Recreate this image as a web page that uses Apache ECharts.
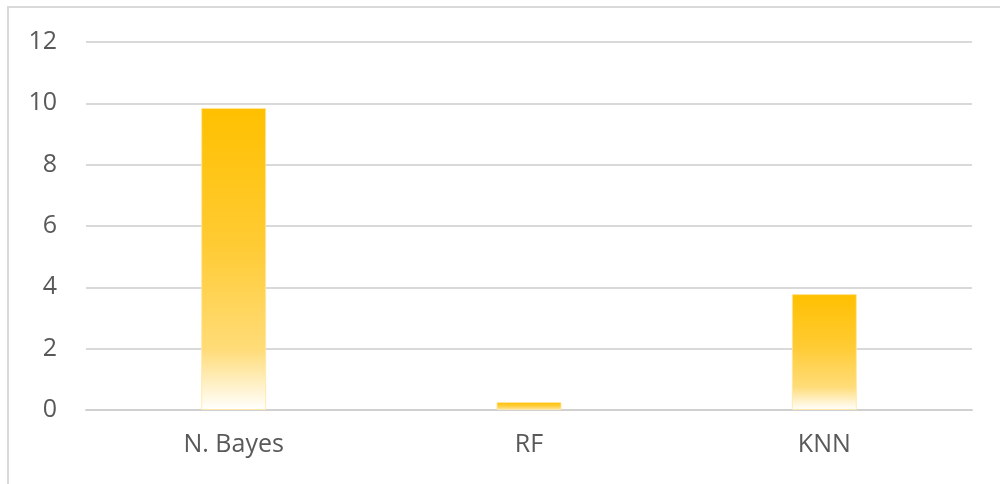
<!DOCTYPE html>
<html>
<head>
<meta charset="utf-8">
<script src="https://cdn.jsdelivr.net/npm/echarts@6/dist/echarts.min.js"></script>
<style>
  html, body { margin: 0; padding: 0; background: #fff; }
  #frame { position: absolute; left: 7px; top: 6px; width: 1000px; height: 490px;
           border-left: 2px solid #d9d9d9; border-top: 2px solid #d9d9d9; box-sizing: border-box; }
  #chart { position: absolute; left: 0; top: 0; width: 1000px; height: 484px; }
</style>
</head>
<body>
<div id="frame"></div>
<div id="chart"></div>
<script>
// Classifier names and their scores
const categories = ['N. Bayes', 'RF', 'KNN'];
const scores = [9.85, 0.26, 3.78];
const yTicks = { min: 0, max: 12, interval: 2 };

const chart = echarts.init(document.getElementById('chart'), null, { renderer: 'canvas' });

const barFill = new echarts.graphic.LinearGradient(0, 0, 0, 1, [
  { offset: 0, color: '#FFC000' },
  { offset: 0.45, color: '#FFCB33' },
  { offset: 0.8, color: '#FFDC78' },
  { offset: 1, color: '#FFFFFF' }
]);

const labelFont = 'Open Sans, Noto Sans, sans-serif';

chart.setOption({
  animation: false,
  backgroundColor: 'transparent',
  grid: { left: 86, right: 28, top: 42, bottom: 74, containLabel: false },
  xAxis: {
    type: 'category',
    data: categories,
    axisLine: { show: true, lineStyle: { color: '#d0d0d0', width: 2 } },
    axisTick: { show: false },
    axisLabel: { color: '#595959', fontSize: 25, fontFamily: labelFont, margin: 22 }
  },
  yAxis: {
    type: 'value',
    min: yTicks.min,
    max: yTicks.max,
    interval: yTicks.interval,
    axisLine: { show: false },
    axisTick: { show: false },
    axisLabel: { color: '#595959', fontSize: 25, fontFamily: labelFont, margin: 29 },
    splitLine: { lineStyle: { color: '#d9d9d9', width: 2 } }
  },
  series: [{
    type: 'bar',
    data: scores,
    barWidth: '22%',
    itemStyle: { color: barFill, borderColor: 'rgba(255,230,160,0.8)', borderWidth: 1 }
  }]
});
</script>
</body>
</html>
